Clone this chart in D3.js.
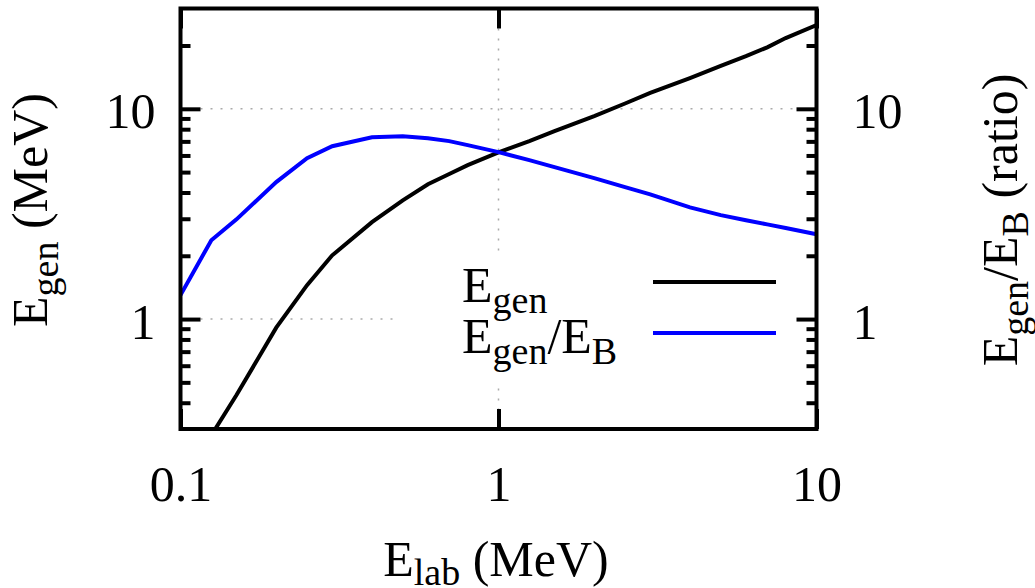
<!DOCTYPE html>
<html>
<head>
<meta charset="utf-8">
<script src="https://cdn.jsdelivr.net/npm/d3@7"></script>
<style>
  body { margin: 0; background: #fff; }
  text { font-family: "Liberation Serif", "Times New Roman", serif; fill: #000; }
</style>
</head>
<body>
<div id="chart"></div>
<script>
// data
var elab = [0.1, 0.125, 0.15, 0.2, 0.25, 0.3, 0.4, 0.5, 0.6, 0.7, 0.8, 1,
            1.25, 1.5, 2, 2.5, 3, 4, 5, 6, 7, 8, 10];
var egen = [0.17, 0.28, 0.435, 0.91, 1.45, 2.01, 2.89, 3.67, 4.38, 4.9, 5.4, 6.2,
            7.02, 7.83, 9.23, 10.6, 11.9, 14.0, 16.0, 17.8, 19.6, 21.7, 25.0];
var ratio = [1.30, 2.37, 2.98, 4.48, 5.82, 6.64, 7.33, 7.41, 7.25, 7.02, 6.72, 6.22,
             5.70, 5.28, 4.68, 4.24, 3.92, 3.40, 3.12, 2.95, 2.82, 2.71, 2.53];
var xMajor = [0.1, 1, 10];
var yMajor = [1, 10];
var yMinor = [0.4, 0.5, 0.6, 0.7, 0.8, 0.9, 2, 3, 4, 5, 6, 7, 8, 9, 20];

// svg params
var svgWidth = 1035;
var svgHeight = 588;
var margin = { top: 8.5, right: 218.5, bottom: 159, left: 180.5 };
var chartWidth = svgWidth - margin.left - margin.right;
var chartHeight = svgHeight - margin.top - margin.bottom;

var svg = d3.select("#chart").append("svg")
    .attr("width", svgWidth)
    .attr("height", svgHeight);
var chartGroup = svg.append("g")
    .attr("transform", `translate(${margin.left}, ${margin.top})`);

// scales
var xScale = d3.scaleLog().domain([0.1, 10]).range([0, chartWidth]);
var yScale = d3.scaleLog().domain([0.3, 30]).range([chartHeight, 0]);

// dotted grid at major ticks
var gridGroup = chartGroup.append("g")
    .attr("stroke", "#aaa")
    .attr("stroke-width", 1.5)
    .attr("stroke-dasharray", "2,8");
gridGroup.selectAll("line.gy").data(yMajor).enter().append("line")
    .attr("x1", 0).attr("x2", chartWidth)
    .attr("y1", d => yScale(d)).attr("y2", d => yScale(d));
gridGroup.selectAll("line.gx").data([1]).enter().append("line")
    .attr("x1", d => xScale(d)).attr("x2", d => xScale(d))
    .attr("y1", 0).attr("y2", chartHeight);

// opaque key box hides the grid under it
chartGroup.append("rect")
    .attr("x", 393 - margin.left).attr("y", 255 - margin.top)
    .attr("width", 404).attr("height", 130)
    .attr("fill", "#fff");

// curves
chartGroup.append("clipPath").attr("id", "clip")
    .append("rect").attr("width", chartWidth).attr("height", chartHeight);

var egenLine = d3.line()
    .x((d, i) => xScale(elab[i]))
    .y(d => yScale(d));

chartGroup.append("path")
    .datum(egen)
    .attr("clip-path", "url(#clip)")
    .attr("d", egenLine)
    .attr("fill", "none")
    .attr("stroke", "#000")
    .attr("stroke-width", 4);

chartGroup.append("path")
    .datum(ratio)
    .attr("clip-path", "url(#clip)")
    .attr("d", egenLine)
    .attr("fill", "none")
    .attr("stroke", "#0000ff")
    .attr("stroke-width", 4);

// axes (ticks point inward)
function styleAxis(g) {
    g.select(".domain").remove();
    g.selectAll(".tick line").attr("stroke", "#000").attr("stroke-width", 4);
    g.selectAll(".tick text").style("font-size", "50px")
        .style("font-family", "'Liberation Serif', serif").attr("fill", "#000");
}
var fmt = d3.format("~g");

chartGroup.append("g")
    .call(d3.axisLeft(yScale).tickValues(yMajor).tickFormat(fmt).tickSize(-20).tickPadding(25))
    .call(styleAxis)
    .selectAll(".tick text").attr("dy", "0.38em");
chartGroup.append("g")
    .call(d3.axisLeft(yScale).tickValues(yMinor).tickFormat("").tickSize(-10))
    .call(styleAxis);

chartGroup.append("g")
    .attr("transform", `translate(${chartWidth}, 0)`)
    .call(d3.axisRight(yScale).tickValues(yMajor).tickFormat(fmt).tickSize(-20).tickPadding(36))
    .call(styleAxis)
    .selectAll(".tick text").attr("dy", "0.38em");
chartGroup.append("g")
    .attr("transform", `translate(${chartWidth}, 0)`)
    .call(d3.axisRight(yScale).tickValues(yMinor).tickFormat("").tickSize(-10))
    .call(styleAxis);

chartGroup.append("g")
    .attr("transform", `translate(0, ${chartHeight})`)
    .call(d3.axisBottom(xScale).tickValues(xMajor).tickFormat(fmt).tickSize(-20).tickPadding(36))
    .call(styleAxis);
chartGroup.append("g")
    .call(d3.axisTop(xScale).tickValues(xMajor).tickFormat("").tickSize(-20))
    .call(styleAxis);

// frame
chartGroup.append("rect")
    .attr("width", chartWidth).attr("height", chartHeight)
    .attr("fill", "none").attr("stroke", "#000").attr("stroke-width", 4);

// labels with subscripts
function subLabel(sel, parts) {
    parts.forEach(function(p) {
        sel.append("tspan")
            .attr("dy", p.dy || 0)
            .style("font-size", p.sub ? "38px" : "50px")
            .text(p.t);
    });
}

var xTitle = svg.append("text")
    .attr("x", 496).attr("y", 576)
    .attr("text-anchor", "middle");
subLabel(xTitle, [{t: "E"}, {t: "lab", sub: true, dy: 9}, {t: " (MeV)", dy: -9}]);

var yTitle = svg.append("text")
    .attr("transform", "translate(47, 210) rotate(-90)")
    .attr("text-anchor", "middle");
subLabel(yTitle, [{t: "E"}, {t: "gen", sub: true, dy: 11}, {t: " (MeV)", dy: -11}]);

var y2Title = svg.append("text")
    .attr("transform", "translate(1017, 220) rotate(-90)")
    .attr("text-anchor", "middle");
subLabel(y2Title, [{t: "E"}, {t: "gen", sub: true, dy: 11}, {t: "/E", dy: -11},
                   {t: "B", sub: true, dy: 11}, {t: " (ratio)", dy: -11}]);

// key
var keyRows = [
    { parts: [{t: "E"}, {t: "gen", sub: true, dy: 11}], color: "#000", y: 282 },
    { parts: [{t: "E"}, {t: "gen", sub: true, dy: 11}, {t: "/E", dy: -11}, {t: "B", sub: true, dy: 11}],
      color: "#0000ff", y: 333 }
];
keyRows.forEach(function(r) {
    var t = svg.append("text").attr("x", 462).attr("y", r.y + 20);
    subLabel(t, r.parts);
    svg.append("line")
        .attr("x1", 653).attr("x2", 776)
        .attr("y1", r.y).attr("y2", r.y)
        .attr("stroke", r.color).attr("stroke-width", 4);
});
</script>
</body>
</html>
